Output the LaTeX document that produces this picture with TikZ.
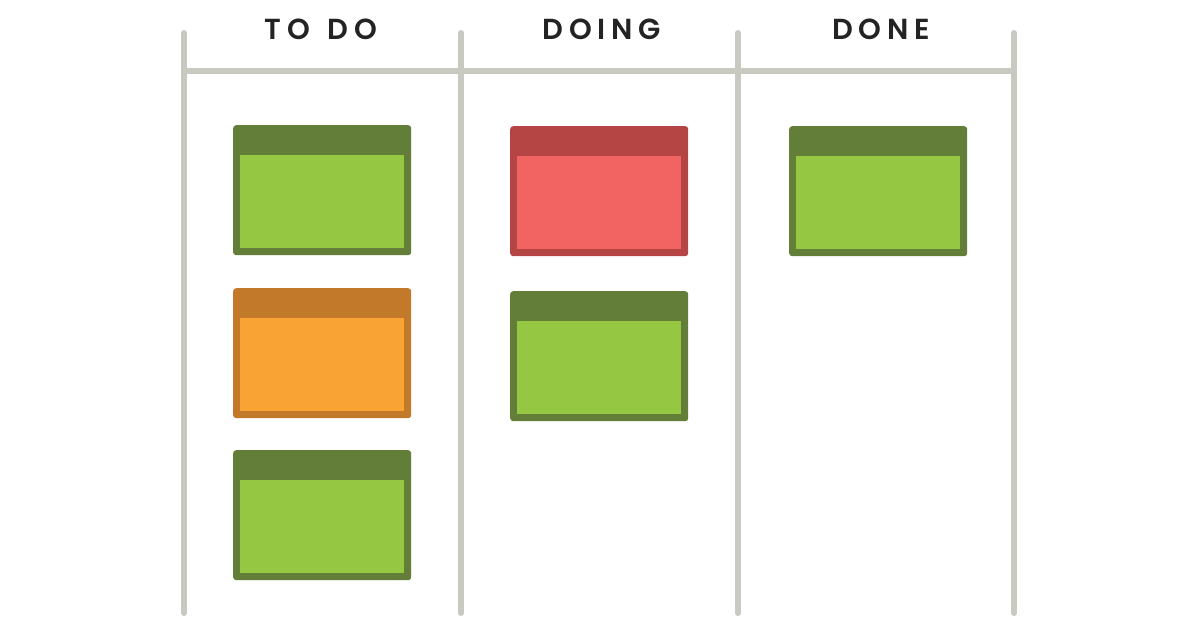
\documentclass[tikz,border=0pt]{standalone}
\usepackage{fontspec}
\setmainfont{Poppins}[UprightFont=* SemiBold, BoldFont=* Bold]
\newfontfamily\headfont{Poppins}[UprightFont=* SemiBold, LetterSpace=20, WordSpace=1.4]
\definecolor{linegray}{HTML}{C8CAC2}
\definecolor{gdark}{HTML}{627E38}
\definecolor{glight}{HTML}{95C743}
\definecolor{odark}{HTML}{C27A2A}
\definecolor{olight}{HTML}{F9A334}
\definecolor{rdark}{HTML}{B54444}
\definecolor{rlight}{HTML}{F16461}
\definecolor{textdark}{HTML}{232323}
\tikzset{
  rail/.style={draw=linegray, line width=6, line cap=round},
  heading/.style={anchor=base, text=textdark, font=\headfont\fontsize{29}{31}\selectfont, inner sep=0},
  cardbox/.style={draw=none, fill=#1, rounded corners=3, minimum width=178, minimum height=130, inner sep=0, anchor=north west},
}
\newcommand\kcard[5]{% name, x, y, dark, light
  \node[cardbox=#4] (#1) at (#2,#3) {};
  \fill[#5] ([xshift=7,yshift=-30]#1.north west) rectangle ([xshift=-7,yshift=7]#1.south east);
}
\begin{document}
\begin{tikzpicture}[x=1pt,y=-1pt]
\useasboundingbox[fill=white] (0,0) rectangle (1200,628);
% rails
\coordinate (v1t) at (184,33); \coordinate (v1b) at (184,613);
\coordinate (v2t) at (461,33); \coordinate (v2b) at (461,613);
\coordinate (v3t) at (738,33); \coordinate (v3b) at (738,613);
\coordinate (v4t) at (1014,33); \coordinate (v4b) at (1014,613);
\coordinate (hl) at (184,71); \coordinate (hr) at (1014,71);
\draw[rail] (v1t) -- (v1b);
\draw[rail] (v2t) -- (v2b);
\draw[rail] (v3t) -- (v3b);
\draw[rail] (v4t) -- (v4b);
\draw[rail] (hl) -- (hr);
% headings
\node[heading] (todo) at (321,40) {TO DO};
\node[heading] (doing) at (602,40) {DOING};
\node[heading] (done) at (881,40) {DONE};
% cards
\kcard{c1}{233}{125}{gdark}{glight}
\kcard{c2}{233}{288}{odark}{olight}
\kcard{c3}{233}{450}{gdark}{glight}
\kcard{c4}{510}{126}{rdark}{rlight}
\kcard{c5}{510}{291}{gdark}{glight}
\kcard{c6}{789}{126}{gdark}{glight}
\end{tikzpicture}
\end{document}
